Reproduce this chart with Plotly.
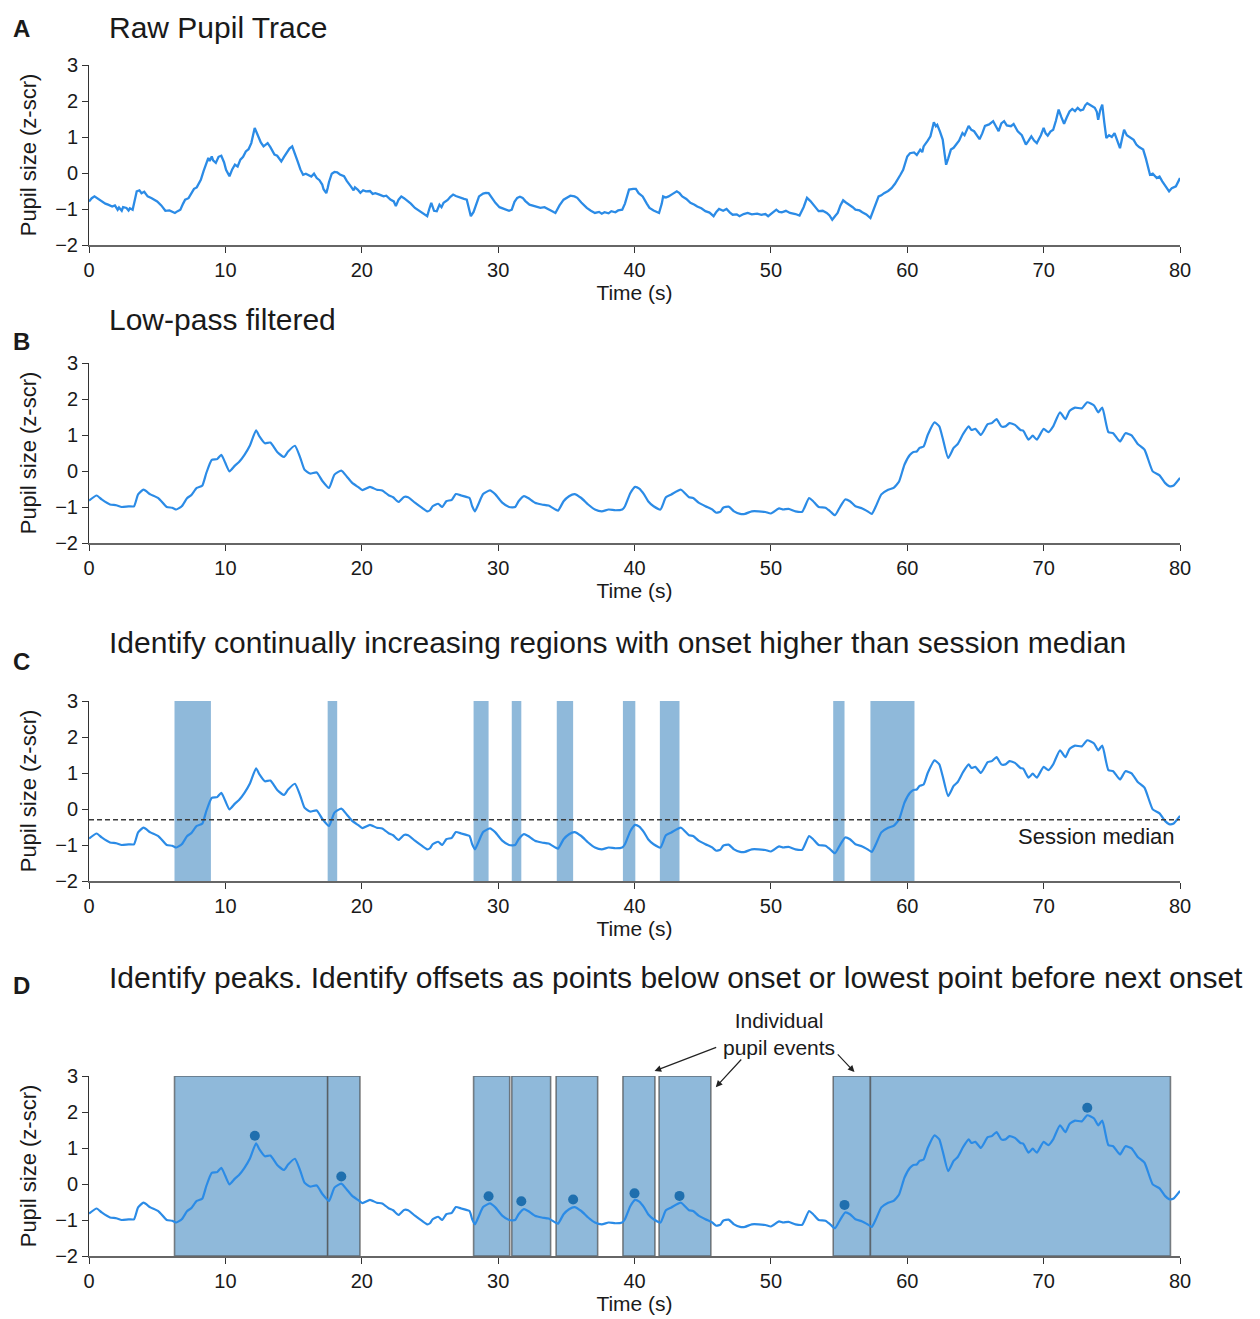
import plotly.graph_objects as go
from plotly.subplots import make_subplots

# ---------------- data ----------------
# Raw pupil trace (z-scored), time in seconds
t_raw = [0.0, 0.2, 0.4, 0.6, 0.9, 1.2, 1.4, 1.7, 1.9, 2.1, 2.2, 2.4, 2.5, 2.75, 2.9, 3.0, 3.2, 3.35, 3.5, 3.7,
         3.85, 4.05, 4.3, 4.6, 5.0, 5.3, 5.6, 5.9, 6.1, 6.3, 6.5, 6.7, 6.9, 7.05, 7.3, 7.5, 7.7, 7.9, 8.2, 8.4,
         8.6, 8.75, 8.85, 9.0, 9.1, 9.3, 9.5, 9.7, 9.9, 10.05, 10.3, 10.5, 10.7, 10.9, 11.1, 11.3, 11.5, 11.7, 11.9, 12.05,
         12.15, 12.3, 12.4, 12.6, 12.8, 13.0, 13.1, 13.3, 13.6, 13.8, 14.1, 14.3, 14.5, 14.7, 14.9, 15.1, 15.3, 15.5, 15.7, 15.9,
         16.1, 16.3, 16.5, 16.7, 16.9, 17.1, 17.2, 17.4, 17.5, 17.6, 17.8, 18.0, 18.2, 18.4, 18.7, 18.9, 19.2, 19.4, 19.5, 19.7,
         19.9, 20.1, 20.3, 20.6, 20.8, 21.0, 21.3, 21.6, 21.8, 22.1, 22.35, 22.5, 22.7, 22.9, 23.1, 23.4, 23.6, 23.9, 24.1, 24.4,
         24.6, 24.8, 24.95, 25.1, 25.3, 25.5, 25.7, 25.85, 26.0, 26.3, 26.5, 26.7, 26.9, 27.2, 27.5, 27.7, 27.85, 28.0, 28.2, 28.4,
         28.6, 28.9, 29.1, 29.3, 29.6, 29.8, 30.1, 30.5, 30.8, 31.0, 31.2, 31.4, 31.6, 31.8, 32.0, 32.3, 32.7, 33.1, 33.4, 33.6,
         33.9, 34.2, 34.5, 34.8, 35.1, 35.3, 35.6, 35.8, 36.1, 36.5, 36.8, 37.1, 37.4, 37.6, 37.8, 38.1, 38.3, 38.6, 38.8, 39.1,
         39.3, 39.6, 39.9, 40.1, 40.3, 40.6, 40.9, 41.1, 41.4, 41.8, 42.0, 42.1, 42.3, 42.5, 42.8, 43.1, 43.3, 43.5, 43.8, 44.1,
         44.4, 44.6, 44.9, 45.2, 45.5, 45.8, 46.0, 46.2, 46.5, 46.75, 47.0, 47.2, 47.5, 47.7, 48.0, 48.3, 48.6, 49.0, 49.3, 49.6,
         49.8, 50.1, 50.4, 50.6, 50.8, 51.1, 51.4, 51.8, 52.1, 52.4, 52.65, 52.9, 53.1, 53.3, 53.5, 53.8, 54.1, 54.3, 54.5, 54.7,
         54.9, 55.1, 55.3, 55.5, 55.75, 56.0, 56.2, 56.5, 56.7, 57.0, 57.3, 57.5, 57.7, 57.9, 58.1, 58.3, 58.6, 58.85, 59.1, 59.3,
         59.5, 59.7, 59.85, 60.0, 60.2, 60.5, 60.7, 60.95, 61.1, 61.2, 61.5, 61.7, 61.85, 61.95, 62.1, 62.2, 62.4, 62.6, 62.75, 62.85,
         63.0, 63.2, 63.4, 63.6, 63.8, 64.05, 64.2, 64.5, 64.7, 64.9, 65.1, 65.3, 65.5, 65.7, 66.0, 66.3, 66.5, 66.7, 66.9, 67.1,
         67.3, 67.6, 67.8, 68.1, 68.4, 68.7, 68.9, 69.1, 69.3, 69.5, 69.8, 70.0, 70.15, 70.3, 70.5, 70.7, 70.9, 71.1, 71.3, 71.5,
         71.7, 71.9, 72.1, 72.3, 72.5, 72.7, 72.9, 73.05, 73.2, 73.4, 73.6, 73.75, 73.9, 74.0, 74.15, 74.3, 74.45, 74.6, 74.8, 75.0,
         75.2, 75.4, 75.6, 75.75, 75.9, 76.1, 76.4, 76.6, 76.8, 77.0, 77.3, 77.5, 77.8, 78.0, 78.3, 78.5, 78.7, 78.9, 79.2, 79.4,
         79.7, 80.0]
pupil_raw = [-0.79, -0.70, -0.65, -0.70, -0.78, -0.85, -0.88, -0.93, -0.90, -1.02, -0.96, -1.05, -0.95, -0.97, -1.04, -0.98, -1.02, -0.80, -0.51, -0.48,
             -0.56, -0.52, -0.65, -0.70, -0.79, -0.90, -1.05, -1.04, -1.08, -1.11, -1.06, -1.02, -0.85, -0.74, -0.70, -0.55, -0.44, -0.40, -0.19, 0.05,
             0.30, 0.42, 0.33, 0.46, 0.35, 0.28, 0.45, 0.48, 0.30, 0.09, -0.09, 0.10, 0.23, 0.18, 0.37, 0.45, 0.60, 0.66, 0.83, 1.05,
             1.25, 1.12, 1.02, 0.85, 0.74, 0.80, 0.83, 0.72, 0.51, 0.48, 0.32, 0.45, 0.56, 0.68, 0.74, 0.55, 0.32, 0.10, -0.05, -0.02,
             -0.05, -0.10, -0.02, -0.14, -0.20, -0.32, -0.45, -0.56, -0.42, -0.25, -0.02, 0.03, 0.02, -0.04, -0.09, -0.22, -0.37, -0.48, -0.40, -0.46,
             -0.55, -0.48, -0.51, -0.50, -0.58, -0.56, -0.60, -0.65, -0.63, -0.74, -0.79, -0.92, -0.74, -0.65, -0.70, -0.79, -0.85, -0.97, -1.02, -1.11,
             -1.15, -1.20, -1.00, -0.83, -1.05, -1.06, -0.88, -0.95, -0.83, -0.75, -0.66, -0.60, -0.64, -0.69, -0.72, -0.74, -0.95, -1.20, -1.08, -0.83,
             -0.65, -0.57, -0.55, -0.56, -0.72, -0.83, -0.95, -1.02, -1.05, -1.02, -0.80, -0.69, -0.66, -0.69, -0.78, -0.88, -0.92, -0.97, -0.95, -1.00,
             -1.05, -1.11, -0.90, -0.74, -0.66, -0.63, -0.65, -0.69, -0.82, -0.97, -1.05, -1.11, -1.08, -1.13, -1.09, -1.12, -1.06, -1.09, -1.04, -1.02,
             -0.85, -0.46, -0.44, -0.44, -0.56, -0.65, -0.85, -0.97, -1.04, -1.11, -0.85, -0.65, -0.68, -0.65, -0.58, -0.51, -0.56, -0.65, -0.72, -0.83,
             -0.88, -0.93, -0.98, -1.06, -1.10, -1.20, -1.08, -1.00, -1.05, -1.00, -1.10, -1.16, -1.15, -1.20, -1.14, -1.11, -1.15, -1.13, -1.16, -1.14,
             -1.20, -1.10, -1.02, -1.08, -1.09, -1.05, -1.11, -1.14, -1.18, -0.95, -0.69, -0.78, -0.88, -0.95, -1.06, -1.05, -1.11, -1.18, -1.30, -1.20,
             -1.11, -0.90, -0.76, -0.82, -0.88, -0.95, -1.02, -1.04, -1.09, -1.15, -1.25, -1.05, -0.80, -0.65, -0.62, -0.56, -0.50, -0.42, -0.30, -0.19,
             -0.05, 0.09, 0.30, 0.46, 0.55, 0.57, 0.50, 0.65, 0.58, 0.74, 0.90, 1.02, 1.25, 1.41, 1.30, 1.34, 1.15, 0.93, 0.50, 0.23,
             0.40, 0.65, 0.70, 0.79, 0.90, 1.11, 1.05, 1.31, 1.20, 1.16, 1.05, 0.94, 1.10, 1.31, 1.35, 1.44, 1.30, 1.16, 1.38, 1.44,
             1.32, 1.30, 1.36, 1.16, 1.05, 0.79, 0.90, 1.02, 0.90, 0.83, 1.05, 1.25, 1.10, 1.04, 1.15, 1.20, 1.45, 1.76, 1.55, 1.37,
             1.55, 1.71, 1.78, 1.72, 1.81, 1.74, 1.76, 1.88, 1.94, 1.90, 1.84, 1.81, 1.70, 1.48, 1.75, 1.90, 1.40, 0.97, 1.05, 1.00,
             1.11, 0.90, 0.69, 0.95, 1.20, 1.05, 0.97, 0.92, 0.79, 0.72, 0.65, 0.40, -0.05, -0.02, -0.14, -0.10, -0.23, -0.35, -0.51, -0.42,
             -0.37, -0.14]

# Low-pass filtered trace
t_filt = [0.0, 0.56, 0.93, 1.54, 2.0, 2.4, 2.9, 3.3, 3.6, 4.0, 4.5, 5.1, 5.7, 6.1, 6.4, 6.8, 7.2, 7.5, 7.9, 8.3,
          8.6, 9.0, 9.4, 9.7, 10.0, 10.3, 10.7, 11.0, 11.4, 11.8, 12.25, 12.5, 12.9, 13.3, 13.8, 14.3, 14.6, 15.1, 15.5, 15.8,
          16.2, 16.7, 17.1, 17.6, 18.0, 18.5, 18.9, 19.3, 19.75, 20.05, 20.6, 21.1, 21.5, 22.0, 22.3, 22.7, 23.1, 23.4, 23.9, 24.4,
          24.8, 25.0, 25.2, 25.6, 25.9, 26.2, 26.6, 26.9, 27.3, 27.9, 28.1, 28.3, 28.6, 28.9, 29.4, 29.8, 30.3, 30.8, 31.25, 31.5,
          31.9, 32.2, 32.7, 33.2, 33.7, 34.2, 34.4, 34.8, 35.2, 35.6, 36.1, 36.6, 37.1, 37.6, 38.1, 38.6, 39.1, 39.3, 39.7, 40.05,
          40.35, 40.7, 41.0, 41.4, 41.9, 42.3, 42.7, 43.4, 44.0, 44.3, 44.7, 45.2, 45.7, 46.0, 46.3, 46.5, 46.9, 47.3, 47.75, 48.1,
          48.6, 49.1, 49.6, 50.0, 50.6, 50.9, 51.3, 51.8, 52.3, 52.8, 53.1, 53.5, 54.0, 54.35, 54.7, 55.1, 55.45, 55.8, 56.2, 56.7,
          57.0, 57.4, 57.7, 58.1, 58.6, 59.0, 59.4, 59.8, 60.2, 60.45, 60.7, 60.9, 61.2, 61.5, 62.0, 62.35, 62.6, 63.0, 63.4, 63.7,
          64.1, 64.5, 64.7, 65.0, 65.4, 65.9, 66.2, 66.55, 66.9, 67.2, 67.5, 67.9, 68.3, 68.5, 68.9, 69.2, 69.5, 70.0, 70.35, 70.7,
          71.2, 71.6, 71.9, 72.3, 72.8, 73.2, 73.7, 74.0, 74.3, 74.75, 75.1, 75.6, 76.0, 76.45, 76.9, 77.4, 78.0, 78.5, 78.9, 79.2,
          79.5, 80.0]
pupil_filt = [-0.82, -0.68, -0.79, -0.93, -0.95, -1.00, -0.98, -0.98, -0.65, -0.52, -0.65, -0.76, -1.00, -1.02, -1.07, -0.98, -0.75, -0.67, -0.47, -0.41,
              -0.06, 0.31, 0.33, 0.45, 0.22, -0.01, 0.15, 0.25, 0.45, 0.71, 1.13, 0.96, 0.77, 0.79, 0.53, 0.39, 0.54, 0.70, 0.36, 0.04,
              -0.07, -0.04, -0.27, -0.47, -0.10, 0.01, -0.15, -0.33, -0.45, -0.53, -0.44, -0.52, -0.54, -0.68, -0.73, -0.86, -0.72, -0.73, -0.88, -1.02,
              -1.12, -1.09, -0.98, -0.91, -1.00, -0.84, -0.80, -0.64, -0.68, -0.75, -0.98, -1.12, -0.88, -0.64, -0.54, -0.65, -0.88, -1.00, -1.00, -0.84,
              -0.70, -0.75, -0.88, -0.93, -0.96, -1.07, -1.10, -0.84, -0.70, -0.64, -0.75, -0.93, -1.07, -1.12, -1.07, -1.09, -1.07, -0.98, -0.61, -0.44,
              -0.49, -0.65, -0.84, -0.98, -1.07, -0.73, -0.65, -0.52, -0.73, -0.75, -0.88, -0.98, -1.07, -1.16, -1.13, -1.02, -0.99, -1.12, -1.19, -1.19,
              -1.12, -1.12, -1.14, -1.18, -1.04, -1.07, -1.05, -1.12, -1.13, -0.75, -0.84, -1.00, -1.02, -1.12, -1.23, -0.98, -0.79, -0.84, -0.98, -1.04,
              -1.10, -1.19, -0.98, -0.65, -0.52, -0.47, -0.29, 0.18, 0.45, 0.53, 0.54, 0.64, 0.68, 1.00, 1.35, 1.24, 0.91, 0.36, 0.64, 0.75,
              1.03, 1.24, 1.14, 1.17, 1.00, 1.30, 1.33, 1.44, 1.24, 1.24, 1.33, 1.28, 1.14, 1.12, 0.87, 0.98, 0.87, 1.17, 1.08, 1.24,
              1.63, 1.44, 1.67, 1.76, 1.74, 1.91, 1.82, 1.63, 1.76, 1.08, 1.05, 0.82, 1.05, 0.99, 0.75, 0.59, -0.01, -0.12, -0.33, -0.42,
              -0.41, -0.19]

session_median = -0.30

# Continually increasing regions with onset above the session median (start, end in s)
rise_start = [6.27, 17.5, 28.2, 31.0, 34.3, 39.15, 41.86, 54.57, 57.3]
rise_end = [8.94, 18.2, 29.3, 31.7, 35.5, 40.06, 43.3, 55.4, 60.53]

# Individual pupil events: onset to offset (s)
event_start = [6.27, 17.5, 28.2, 31.0, 34.25, 39.15, 41.8, 54.57, 57.3]
event_end = [17.5, 19.87, 30.85, 33.85, 37.3, 41.5, 45.6, 57.3, 79.3]

# Detected peaks
peak_t = [12.16, 18.5, 29.3, 31.7, 35.5, 40.0, 43.3, 55.4, 73.2]
peak_v = [1.34, 0.21, -0.34, -0.48, -0.43, -0.26, -0.33, -0.58, 2.12]

x_ticks = [0, 10, 20, 30, 40, 50, 60, 70, 80]
y_ticks = [-2, -1, 0, 1, 2, 3]

panel_titles = [
    "Raw Pupil Trace",
    "Low-pass filtered",
    "Identify continually increasing regions with onset higher than session median",
    "Identify peaks. Identify offsets as points below onset or lowest point before next onset",
]
panel_letters = ["A", "B", "C", "D"]

# ---------------- layout helpers ----------------
W, H = 1260, 1319
ML, MR, MT, MB = 89, 80, 65, 63          # outer margins = plot-area edges
IW, IH = W - ML - MR, H - MT - MB
FONT = "Arial, Liberation Sans, sans-serif"
TXT = "#1a1a1a"
TRACE_COL = "#2b8be6"
SHADE_COL = "#8fb9da"
DOT_COL = "#1f6fae"

# plot-area pixel extents (top, bottom) per panel
panel_px = [(65, 245), (363, 543), (701, 881), (1076, 1256)]
title_y_px = [27, 319, 643, 977]
letter_y_px = [29, 341, 661, 985]


def px_x(px):
    return (px - ML) / IW


def px_y(py):
    return (H - MB - py) / IH


fig = make_subplots(rows=4, cols=1)

fig.add_trace(go.Scatter(x=t_raw, y=pupil_raw, mode="lines",
                         line=dict(color=TRACE_COL, width=2.3), showlegend=False), row=1, col=1)
for r in (2, 3, 4):
    fig.add_trace(go.Scatter(x=t_filt, y=pupil_filt, mode="lines",
                             line=dict(color=TRACE_COL, width=2.2, shape="spline", smoothing=0.5),
                             showlegend=False), row=r, col=1)

# session median (panel C)
fig.add_trace(go.Scatter(x=[0, 80], y=[session_median, session_median], mode="lines",
                         line=dict(color="#3a3a3a", width=1.4, dash="5px,3px"), showlegend=False),
              row=3, col=1)

# peaks (panel D)
fig.add_trace(go.Scatter(x=peak_t, y=peak_v, mode="markers",
                         marker=dict(color=DOT_COL, size=10), showlegend=False), row=4, col=1)

shapes = []
for s, e in zip(rise_start, rise_end):
    shapes.append(dict(type="rect", xref="x3", yref="y3", x0=s, x1=e, y0=-2, y1=3,
                       fillcolor=SHADE_COL, line=dict(width=0), layer="below"))
for s, e in zip(event_start, event_end):
    shapes.append(dict(type="rect", xref="x4", yref="y4", x0=s, x1=e, y0=-2, y1=3,
                       fillcolor=SHADE_COL, line=dict(color="rgba(70,70,70,0.65)", width=1.6),
                       layer="below"))

annotations = []
for i in range(4):
    annotations.append(dict(xref="paper", yref="paper", x=px_x(107), y=px_y(title_y_px[i]),
                            xanchor="left", yanchor="middle", showarrow=False,
                            text=panel_titles[i], font=dict(family=FONT, size=30, color=TXT)))
    annotations.append(dict(xref="paper", yref="paper", x=px_x(11), y=px_y(letter_y_px[i]),
                            xanchor="left", yanchor="middle", showarrow=False,
                            text="<b>%s</b>" % panel_letters[i],
                            font=dict(family=FONT, size=24, color=TXT)))

annotations.append(dict(xref="x3", yref="y3", x=79.8, y=-0.75, xanchor="right", yanchor="middle",
                        showarrow=False, text="Session median",
                        font=dict(family=FONT, size=22, color=TXT)))


def dom(v):
    # value on the -2..3 axis as a fraction of the panel-D y domain
    return (v + 2) / 5


annotations.append(dict(xref="x4", yref="y4 domain", x=50.6, y=dom(4.17), xanchor="center",
                        yanchor="middle", showarrow=False, text="Individual<br>pupil events",
                        align="center", font=dict(family=FONT, size=21, color=TXT)))
arrows = [((46.1, 3.81), (41.47, 3.14)), ((47.93, 3.5), (45.96, 2.69)), ((54.8, 3.64), (56.13, 3.11))]
for (tx, ty), (hx, hy) in arrows:
    annotations.append(dict(xref="x4", yref="y4 domain", axref="x4", ayref="y4 domain",
                            x=hx, y=dom(hy), ax=tx, ay=dom(ty),
                            text="", showarrow=True, arrowhead=2, arrowsize=1.1, arrowwidth=1.2,
                            arrowcolor="#222222"))

layout = dict(width=W, height=H, margin=dict(l=ML, r=MR, t=MT, b=MB),
              plot_bgcolor="white", paper_bgcolor="white",
              font=dict(family=FONT, color=TXT),
              shapes=shapes, annotations=annotations)

for i in range(4):
    n = "" if i == 0 else str(i + 1)
    top, bot = panel_px[i]
    layout["xaxis" + n] = dict(domain=[0, 1], range=[0, 80], automargin=False,
                                tickvals=x_ticks, ticks="outside", ticklen=6, tickcolor="#333333",
                                showline=True, linecolor="#666666", linewidth=1.5,
                                showgrid=False, zeroline=False,
                                tickfont=dict(family=FONT, size=20, color=TXT),
                                title=dict(text="Time (s)", standoff=4,
                                           font=dict(family=FONT, size=21, color=TXT)),
                                anchor="y" + n)
    layout["yaxis" + n] = dict(domain=[px_y(bot), px_y(top)], range=[-2, 3], automargin=False,
                                tickvals=y_ticks, ticks="outside", ticklen=6, tickcolor="#333333",
                                showline=True, linecolor="#333333", linewidth=1,
                                showgrid=False, zeroline=False,
                                tickfont=dict(family=FONT, size=20, color=TXT),
                                title=dict(text="Pupil size (z-scr)", standoff=12,
                                           font=dict(family=FONT, size=22, color=TXT)),
                                anchor="x" + n)

fig.update_layout(**layout)
fig.write_html("out.html")
